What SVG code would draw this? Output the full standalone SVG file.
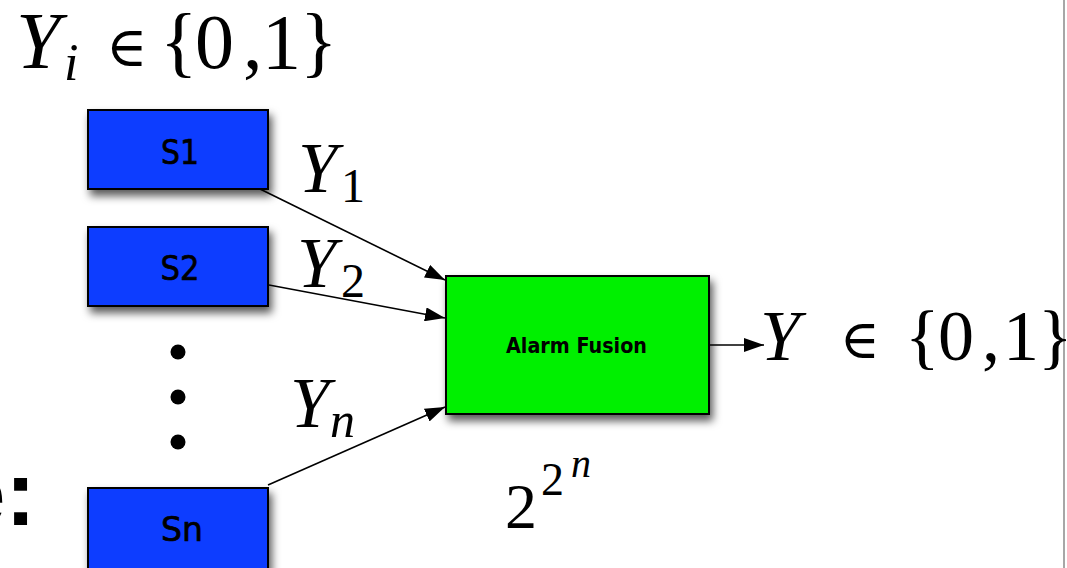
<svg xmlns="http://www.w3.org/2000/svg" width="1067" height="568" viewBox="0 0 1067 568">
<defs>
<filter id="sh" x="-20%" y="-20%" width="150%" height="160%">
<feDropShadow dx="3" dy="6" stdDeviation="4" flood-color="#000" flood-opacity="0.65"/>
</filter>
<marker id="ah" viewBox="0 0 20 14" refX="20" refY="7" markerWidth="20" markerHeight="14" markerUnits="userSpaceOnUse" orient="auto">
<path d="M0,0 L20,7 L0,14 Z" fill="#000"/>
</marker>
</defs>
<style>
.sensor{fill:#0B3CFF;stroke:#000;stroke-width:2;filter:url(#sh)}
.fusion{fill:#00F000;stroke:#000;stroke-width:2;filter:url(#sh)}
.lbl{font-family:"DejaVu Sans",sans-serif;font-size:34px;fill:#000;stroke:#000;stroke-width:0.7;text-anchor:middle}
.flbl{font-family:"DejaVu Sans",sans-serif;font-size:22px;font-weight:bold;fill:#000}
.m{font-family:"Liberation Serif",serif;fill:#000}
.mi{font-family:"Liberation Serif",serif;font-style:italic;fill:#000}
.sym{font-family:"DejaVu Serif",serif;fill:#000}
.conn{stroke:#000;stroke-width:1.6;fill:none;marker-end:url(#ah)}
</style>
<rect width="1067" height="568" fill="#fff"/>
<line x1="1064" y1="0" x2="1064" y2="568" stroke="#8a8a8a" stroke-width="1.5"/>
<g id="title">
<text class="mi" x="16" y="68" font-size="80">Y</text>
<text class="mi" x="64" y="80" font-size="52">i</text>
<text class="sym" x="106" y="66" font-size="56">∈</text>
<text class="m" x="160" y="68" font-size="78">{</text>
<text class="m" x="195" y="68" font-size="78">0</text>
<text class="m" x="243" y="68" font-size="78">,</text>
<text class="m" x="262" y="68" font-size="78">1</text>
<text class="m" x="300" y="68" font-size="78">}</text>
</g>
<g id="left-text">
<text x="36" y="525" font-family="Liberation Sans,sans-serif" font-weight="bold" font-size="92" text-anchor="end" fill="#000">e:</text>
</g>
<g id="connectors">
<line class="conn" x1="260" y1="189" x2="445" y2="280"/>
<line class="conn" x1="269" y1="285" x2="445" y2="318"/>
<line class="conn" x1="268" y1="485" x2="445" y2="407"/>
<line class="conn" x1="709" y1="345" x2="764" y2="345"/>
</g>
<g id="S1">
<rect class="sensor" x="88" y="110" width="180" height="79"/>
<text class="lbl" x="180" y="164" textLength="38" lengthAdjust="spacingAndGlyphs">S1</text>
</g>
<g id="S2">
<rect class="sensor" x="88" y="227" width="180" height="79"/>
<text class="lbl" x="180" y="280" textLength="39" lengthAdjust="spacingAndGlyphs">S2</text>
</g>
<g id="dots">
<circle cx="178" cy="352" r="7.5" fill="#000"/>
<circle cx="178" cy="397" r="7.5" fill="#000"/>
<circle cx="178" cy="442" r="7.5" fill="#000"/>
</g>
<g id="Sn">
<rect class="sensor" x="88" y="488" width="180" height="82"/>
<text class="lbl" x="182" y="541" textLength="42" lengthAdjust="spacingAndGlyphs">Sn</text>
</g>
<g id="fusion">
<rect class="fusion" x="446" y="276" width="263" height="138"/>
<text class="flbl" x="506" y="353" textLength="141" lengthAdjust="spacingAndGlyphs">Alarm Fusion</text>
</g>
<g id="edge-labels">
<text class="mi" x="298" y="192" font-size="71">Y</text>
<text class="m" x="341" y="202" font-size="48">1</text>
<text class="mi" x="297" y="287" font-size="71">Y</text>
<text class="m" x="341" y="297" font-size="48">2</text>
<text class="mi" x="290" y="427" font-size="71">Y</text>
<text class="mi" x="330" y="437" font-size="50">n</text>
</g>
<g id="output-label">
<text class="mi" x="760" y="360" font-size="72">Y</text>
<text class="sym" x="840" y="358" font-size="54">∈</text>
<text class="m" x="905" y="360" font-size="72">{</text>
<text class="m" x="938" y="360" font-size="72">0</text>
<text class="m" x="982" y="360" font-size="72">,</text>
<text class="m" x="1003" y="360" font-size="72">1</text>
<text class="m" x="1038" y="360" font-size="72">}</text>
</g>
<g id="complexity">
<text class="m" x="505" y="528" font-size="64">2</text>
<text class="m" x="541" y="495" font-size="46">2</text>
<text class="mi" x="571" y="477" font-size="40">n</text>
</g>
</svg>
